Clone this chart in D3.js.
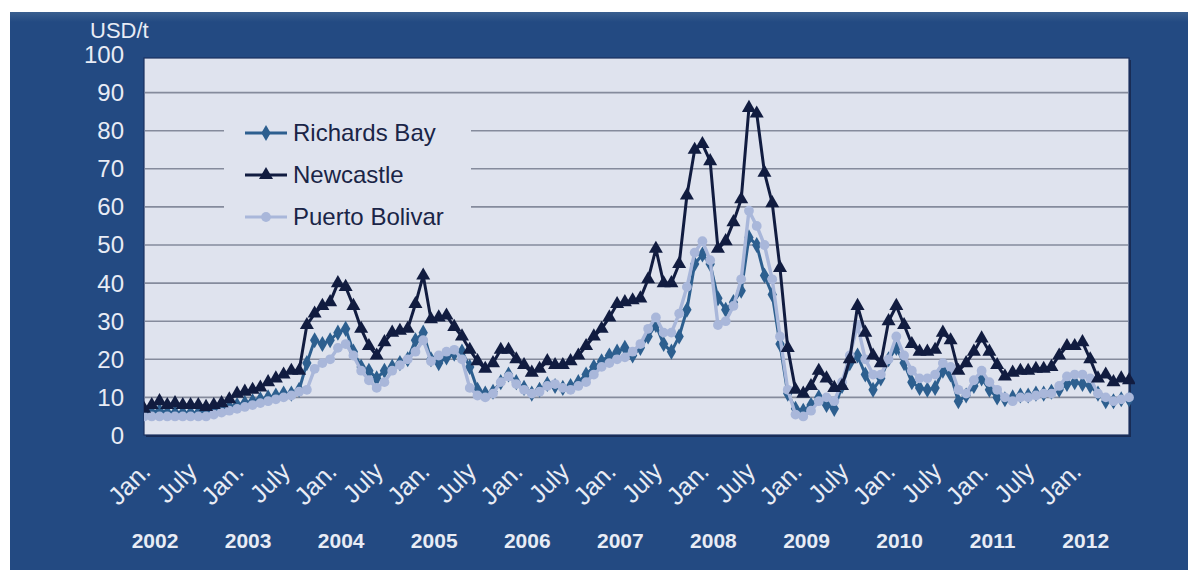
<!DOCTYPE html>
<html><head><meta charset="utf-8">
<script src="https://cdn.jsdelivr.net/npm/d3@7"></script>
<style>
body{margin:0;background:#fff}
svg{display:block}
text{font-family:"Liberation Sans",Arial,sans-serif}
</style>
</head><body>
<svg id="chart" width="1188" height="570"></svg>
<script>
// ---------- data ----------
const startYear = 2002;
const yTicks = [0,10,20,30,40,50,60,70,80,90,100];
const monthLabels = ["Jan.","July"];
const yearLabels = ["2002","2003","2004","2005","2006","2007","2008","2009","2010","2011","2012"];
const seriesNames = ["Richards Bay","Newcastle","Puerto Bolivar"];
const unitLabel = "USD/t";

const richardsBay = [
  6,6,6.5,6,6,6,6,6,6.5,7,7,7.5,
  8,8.5,9,9.5,10,10.5,11,11,12,19,25,24,
  25,27,28,22,18,17,15,17,18,19,20,25,
  27,20,19,20.5,21.5,22,18,12,11,11.5,14,16,
  14,12.5,11,12,13.5,13,12.5,13,14,16,18,19.5,
  21,22,23,21,23,26,29,24,22,26,33,45,
  47.5,45,36,33,35,38,52,50,42,37,24,11,
  7,6.5,8,10,8,7,13,19,21,16,12,15,
  20,23,19,14,12.5,12,12.5,17,16,9,10.5,13,
  15,12,10,9.5,10,10.5,10.5,11,11,11.5,12,13.5,
  14,13.5,13,11,9,9,9.5,9.5
];
const newcastle = [
  7,8,9,8,8.5,8,8,8,7.5,8,8.5,9.5,
  11,11.5,12,12.6,14,15,16,17,17,29,32,34,
  35,40,39,34,28,23.5,21,24.5,27,27.5,28,34.5,
  42,30.5,31,31.5,28.5,26,22.5,19.5,17.5,19,22.5,22.5,
  20,18.5,16.5,17.5,19.5,18.5,18.5,19.5,21,23.5,26,28,
  31,34.5,35,35.5,36,41,49,40,40,45,63,75,
  76.5,72,49,51,56,62,86,84.5,69,61,44,23,
  12,11,13,17,15,12.5,13,20,34,27,21,19,
  30,34,29,24,22,22,22.5,27,25,17,19,22,
  25.5,22,18.5,15.5,16.5,17,17,17.5,17.5,18,21,23.5,
  23.5,24.5,20,15,16,14,15,14.5
];
const puertoBolivar = [
  5,5,5,5,5,5,5,5,5,5.5,6,6.5,
  7,7.5,8,8.5,9,9.5,10,10.5,11.5,12,17.5,19,
  20,23,24,21,17,14.5,12.5,14,17,18.5,20,22,
  25,19.5,21,22,22.5,20,12.5,10.5,10,11,14,15.5,
  13.5,12,11,11.5,13,13.5,12.5,12,13,14,16,18,
  19,20,20.5,22,24,28,31,27,27,32,39,48,
  51,46,29,30,34,41,59,55,50,41,26,12,
  5.5,5,6.5,9,10,9,14,21,29,20,16,16,
  20,26,21,17,15,15,16,19,18,12,11,14.5,
  17,14,12,10,9,10,10,10.5,11,11,13,15.5,
  16,16,15,11,10,9,9.5,10
];

// ---------- chart ----------
const svg = d3.select("#chart");
const W = 1188, H = 570;
const plot = {left:144, right:1129, top:58, bottom:435};
const n = newcastle.length;

const x = d3.scaleLinear().domain([0, n-1]).range([plot.left, plot.right]);
const y = d3.scaleLinear().domain([0, 100]).range([435.5, 54.5]);

// outer panel
svg.append("rect").attr("x",0).attr("y",0).attr("width",W).attr("height",H).attr("fill","#ffffff");
const grad = svg.append("defs").append("linearGradient").attr("id","topg").attr("x1",0).attr("y1",0).attr("x2",0).attr("y2",1);
grad.append("stop").attr("offset","0").attr("stop-color","#3a5f8f");
grad.append("stop").attr("offset","1").attr("stop-color","#234a82");
svg.append("rect").attr("x",10).attr("y",12).attr("width",W-10).attr("height",H-12).attr("fill","#234a82");
svg.append("rect").attr("x",10).attr("y",12).attr("width",W-10).attr("height",10).attr("fill","url(#topg)");

// plot area
svg.append("rect").attr("x",plot.left+2).attr("y",plot.top+2).attr("width",plot.right-plot.left).attr("height",plot.bottom-plot.top)
  .attr("fill","#182c55");
svg.append("rect").attr("x",plot.left).attr("y",plot.top).attr("width",plot.right-plot.left).attr("height",plot.bottom-plot.top)
  .attr("fill","#dfe3ee").attr("stroke","#1c3160").attr("stroke-width",1.2);

// gridlines
svg.append("g").selectAll("line").data(yTicks.filter(t => t>0 && t<100)).join("line")
  .attr("x1",plot.left+1).attr("x2",plot.right-1)
  .attr("y1",d=>y(d)).attr("y2",d=>y(d))
  .attr("stroke","#858b9c").attr("stroke-width",1.6);

// y labels
svg.append("g").selectAll("text").data(yTicks).join("text")
  .attr("x",124).attr("y",d=>y(d)).attr("dy","0.35em")
  .attr("text-anchor","end").attr("fill","#e8ecf5").attr("font-size",24)
  .text(d=>d);
svg.append("text").attr("x",90).attr("y",38).attr("fill","#e8ecf5").attr("font-size",22).text(unitLabel);

// x labels (Jan./July every 6 months)
const tickIdx = d3.range(0, 121, 6);
svg.append("g").selectAll("text").data(tickIdx).join("text")
  .attr("transform", d => `translate(${x(d)+8},473) rotate(-45)`)
  .attr("text-anchor","end").attr("fill","#e8ecf5").attr("font-size",25)
  .text((d,i)=>monthLabels[i%2]);

// year labels
svg.append("g").selectAll("text").data(yearLabels).join("text")
  .attr("x",(d,i)=>x(i*12)+11).attr("y",548)
  .attr("text-anchor","middle").attr("fill","#e8ecf5").attr("font-size",21).attr("font-weight","bold")
  .text(d=>d);

// series
const series = [
  {name:seriesNames[0], values:richardsBay, color:"#2d5f8f", sym:d3.symbolDiamond, size:75, width:3},
  {name:seriesNames[2], values:puertoBolivar, color:"#a9b7da", sym:d3.symbolCircle, size:75, width:3.4},
  {name:seriesNames[1], values:newcastle, color:"#111c40", sym:d3.symbolTriangle, size:85, width:3}
];
const line = d3.line().x((d,i)=>x(i)).y(d=>y(d));
const clip = svg.append("clipPath").attr("id","clp").append("rect")
  .attr("x",plot.left).attr("y",plot.top).attr("width",plot.right-plot.left+6).attr("height",plot.bottom-plot.top);
series.forEach(s=>{
  const g = svg.append("g").attr("clip-path","url(#clp)");
  g.append("path").datum(s.values).attr("d",line).attr("fill","none")
    .attr("stroke",s.color).attr("stroke-width",s.width).attr("stroke-linejoin","round");
  g.selectAll("path.m").data(s.values).join("path").attr("class","m")
    .attr("transform",(d,i)=>`translate(${x(i)},${y(d)})`)
    .attr("d",d3.symbol().type(s.sym).size(s.size)).attr("fill",s.color);
});

// legend
svg.append("rect").attr("x",224).attr("y",112).attr("width",247).attr("height",126).attr("fill","#dfe3ee");
const legendItems = [
  {name:seriesNames[0], color:"#2d5f8f", sym:d3.symbolDiamond, size:75},
  {name:seriesNames[1], color:"#111c40", sym:d3.symbolTriangle, size:85},
  {name:seriesNames[2], color:"#a9b7da", sym:d3.symbolCircle, size:75}
];
const lg = svg.append("g").selectAll("g").data(legendItems).join("g")
  .attr("transform",(d,i)=>`translate(0,${133+i*42})`);
lg.append("line").attr("x1",245).attr("x2",287).attr("y1",0).attr("y2",0)
  .attr("stroke",d=>d.color).attr("stroke-width",3);
lg.append("path").attr("transform","translate(266,0)")
  .attr("d",d=>d3.symbol().type(d.sym).size(d.size)()).attr("fill",d=>d.color);
lg.append("text").attr("x",293).attr("y",0).attr("dy","0.35em")
  .attr("fill","#1a2547").attr("font-size",24).text(d=>d.name);
</script>
</body></html>
